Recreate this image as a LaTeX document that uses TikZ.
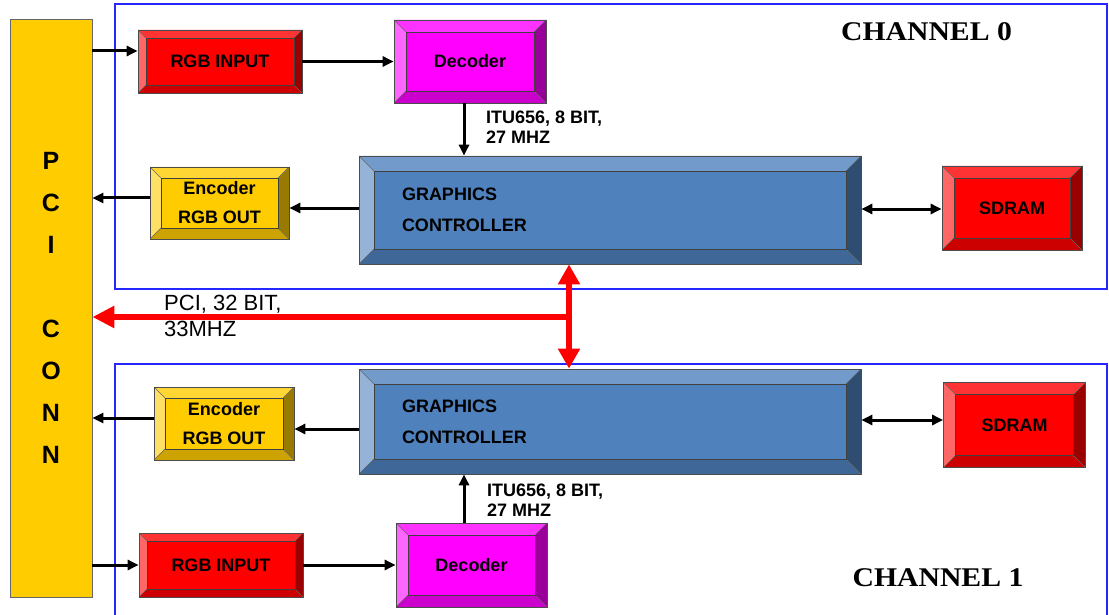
\documentclass[tikz,border=0pt]{standalone}
\usepackage{fontspec}
\setmainfont{Liberation Sans}
\newfontfamily\chanfont{Liberation Serif}
\usetikzlibrary{arrows.meta,calc}
\definecolor{rF}{HTML}{FF0000}\definecolor{rT}{HTML}{FF3333}\definecolor{rL}{HTML}{FF6666}\definecolor{rR}{HTML}{990000}\definecolor{rB}{HTML}{CC0000}
\definecolor{mF}{HTML}{FF00FF}\definecolor{mT}{HTML}{FF33FF}\definecolor{mL}{HTML}{FF66FF}\definecolor{mR}{HTML}{990099}\definecolor{mB}{HTML}{CC00CC}
\definecolor{yF}{HTML}{FFCC00}\definecolor{yT}{HTML}{FFD633}\definecolor{yL}{HTML}{FFE066}\definecolor{yR}{HTML}{997A00}\definecolor{yB}{HTML}{CCA300}
\definecolor{bF}{HTML}{4F81BD}\definecolor{bT}{HTML}{729ACA}\definecolor{bL}{HTML}{95B3D7}\definecolor{bR}{HTML}{2F4D71}\definecolor{bB}{HTML}{3F6797}
\definecolor{frameblue}{HTML}{2626FF}
\tikzset{
  bev/.store in=\bvl, bev=12,
  bevbox/.style n args={5}{rectangle, draw=black!70, line width=0.7pt, fill=#1, inner sep=0pt,
    font=\fontsize{18}{29}\selectfont\bfseries, align=center, text=black,
    path picture={
      \path (path picture bounding box.north west) coordinate (pNW)
            (path picture bounding box.north east) coordinate (pNE)
            (path picture bounding box.south west) coordinate (pSW)
            (path picture bounding box.south east) coordinate (pSE);
      \path ($(pNW)+(\bvl,\bvl)$) coordinate (iNW)
            ($(pNE)+(-\bvl,\bvl)$) coordinate (iNE)
            ($(pSW)+(\bvl,-\bvl)$) coordinate (iSW)
            ($(pSE)+(-\bvl,-\bvl)$) coordinate (iSE);
      \fill[#2] (pNW)--(pNE)--(iNE)--(iNW)--cycle;
      \fill[#3] (pNW)--(iNW)--(iSW)--(pSW)--cycle;
      \fill[#4] (pNE)--(pSE)--(iSE)--(iNE)--cycle;
      \fill[#5] (pSW)--(iSW)--(iSE)--(pSE)--cycle;
      \draw[black!60, line width=0.4pt] (pNW)--(iNW) (pNE)--(iNE) (pSW)--(iSW) (pSE)--(iSE);
      \draw[black!75, line width=0.8pt] (iNW) rectangle (iSE);
    }},
  redbox/.style={bevbox={rF}{rT}{rL}{rR}{rB}},
  magbox/.style={bevbox={mF}{mT}{mL}{mR}{mB}},
  yelbox/.style={bevbox={yF}{yT}{yL}{yR}{yB}},
  bluebox/.style={bevbox={bF}{bT}{bL}{bR}{bB}, bev=15, text width=416pt, align=left,
    font=\fontsize{18}{31}\selectfont\bfseries},
  chframe/.style={draw=frameblue, line width=1.2pt},
  arr/.style={draw=black, line width=3pt, -{Triangle[length=11pt,width=10pt]}},
  darr/.style={draw=black, line width=3pt, {Triangle[length=11pt,width=10pt]}-{Triangle[length=11pt,width=10pt]}},
  redarr/.style={draw=red, line width=6pt},
  buslbl/.style={font=\fontsize{18}{20}\selectfont\bfseries, align=left, anchor=west, inner sep=0pt},
  chan/.style={font=\chanfont\fontsize{27}{27}\selectfont\bfseries, inner sep=0pt},
}
\begin{document}
\begin{tikzpicture}[x=1pt,y=-1pt]
\useasboundingbox (0,0) rectangle (1109,615);
\fill[white] (0,0) rectangle (1109,615);
% channel frames
\draw[chframe] (115,4) -- (1107,4) -- (1107,289) -- (115,289) -- cycle;
\draw[chframe] (115,615) -- (115,364) -- (1107,364) -- (1107,615);
% PCI connector
\node[rectangle, draw=black!60, line width=0.8pt, fill=yF, minimum width=82pt, minimum height=578pt,
      inner sep=0pt, align=center, font=\fontsize{25}{42}\selectfont\bfseries] (pci) at (51,308)
      {P\\C\\I\\[42pt]C\\O\\N\\N};
% channel 0
\node[redbox, bev=8, minimum width=164pt, minimum height=63pt] (rgb0) at (220,61.5) {RGB INPUT};
\node[magbox, bev=12, minimum width=152pt, minimum height=83pt] (dec0) at (470,61.5) {Decoder};
\node[yelbox, bev=11, minimum width=139pt, minimum height=72pt] (enc0) at (219.5,203) {Encoder\\RGB OUT};
\node[bluebox, minimum width=502pt, minimum height=108pt] (gc0) at (610,210) {GRAPHICS\\CONTROLLER};
\node[redbox, bev=12, minimum width=140pt, minimum height=84pt] (sd0) at (1012,208) {SDRAM};
% channel 1
\node[yelbox, bev=11, minimum width=140pt, minimum height=73pt] (enc1) at (224,423.5) {Encoder\\RGB OUT};
\node[bluebox, minimum width=502pt, minimum height=105pt] (gc1) at (610,421.5) {GRAPHICS\\CONTROLLER};
\node[redbox, bev=12, minimum width=142pt, minimum height=85pt] (sd1) at (1014.5,425) {SDRAM};
\node[redbox, bev=8, minimum width=164pt, minimum height=64pt] (rgb1) at (221,565) {RGB INPUT};
\node[magbox, bev=12, minimum width=151pt, minimum height=84pt] (dec1) at (471.5,565) {Decoder};
% helper coordinates
\coordinate (y51) at (0,51);
\coordinate (y198) at (0,198);
\coordinate (y208) at (0,208);
\coordinate (y209) at (0,209);
\coordinate (y418) at (0,418);
\coordinate (y429) at (0,429);
\coordinate (y420) at (0,420);
\coordinate (itux) at (464,0);
\coordinate (jn) at (569,317);
% black connectors channel 0
\draw[arr] (pci.east |- y51) -- (rgb0.west |- y51);
\draw[arr] (rgb0.east) -- (dec0.west |- rgb0.east);
\draw[arr] (itux |- dec0.south) -- (itux |- gc0.north);
\draw[arr] (gc0.west |- y208) -- (enc0.east |- y208);
\draw[arr] (enc0.west |- y198) -- (pci.east |- y198);
\draw[darr] (gc0.east |- y209) -- (sd0.west |- y209);
% black connectors channel 1
\draw[arr] (enc1.west |- y418) -- (pci.east |- y418);
\draw[arr] (gc1.west |- y429) -- (enc1.east |- y429);
\draw[darr] (gc1.east |- y420) -- (sd1.west |- y420);
\draw[arr] (pci.east |- rgb1.west) -- (rgb1.west);
\draw[arr] (rgb1.east) -- (dec1.west |- rgb1.east);
\draw[arr] (itux |- dec1.north) -- (itux |- gc1.south);
% red PCI bus
\draw[redarr, -{Triangle[length=22pt,width=21pt]}] (jn) -- (jn -| pci.east);
\draw[redarr, {Triangle[length=20pt,width=21pt]}-{Triangle[length=20pt,width=21pt]}] (jn |- gc0.south) -- (jn |- gc1.north);
% labels
\node[buslbl] (itu0) at (486,127) {ITU656, 8 BIT,\\27 MHZ};
\node[buslbl] (itu1) at (487,500.5) {ITU656, 8 BIT,\\27 MHZ};
\node[font=\fontsize{22}{26}\selectfont, align=left, anchor=west, inner sep=0pt] (pcilbl) at (164,316) {PCI, 32 BIT,\\33MHZ};
\node[chan] (ch0) at (926.5,32) {\scalebox{1.1}[1]{CHANNEL 0}};
\node[chan] (ch1) at (938,577.5) {\scalebox{1.1}[1]{CHANNEL 1}};
\end{tikzpicture}
\end{document}
